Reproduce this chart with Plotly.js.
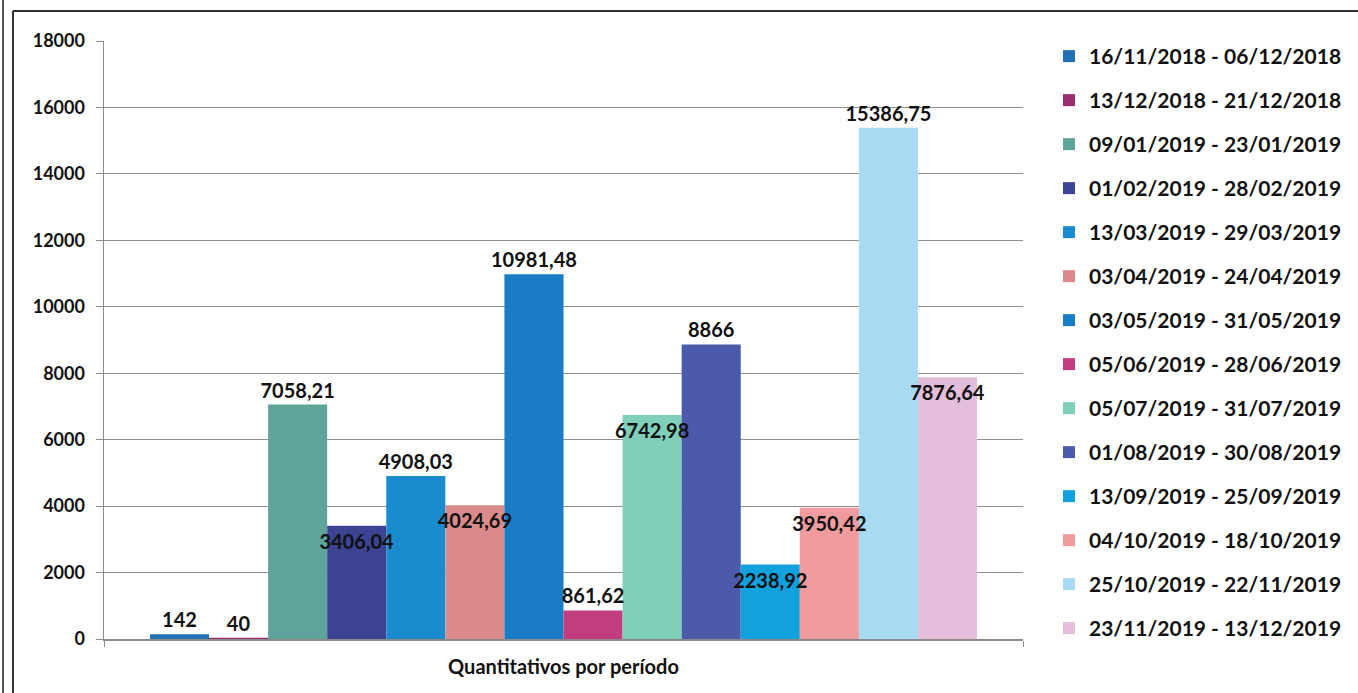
<!DOCTYPE html>
<html>
<head>
<meta charset="utf-8">
<script src="https://cdn.plot.ly/plotly-3.0.1.min.js"></script>
<style>
html,body{margin:0;padding:0;background:#fff;}
#chart{width:1358px;height:693px;}
</style>
</head>
<body>
<div id="chart"></div>
<script>
var category = ["Quantitativos por período"];
var periods = [
  "16/11/2018 - 06/12/2018",
  "13/12/2018 - 21/12/2018",
  "09/01/2019 - 23/01/2019",
  "01/02/2019 - 28/02/2019",
  "13/03/2019 - 29/03/2019",
  "03/04/2019 - 24/04/2019",
  "03/05/2019 - 31/05/2019",
  "05/06/2019 - 28/06/2019",
  "05/07/2019 - 31/07/2019",
  "01/08/2019 - 30/08/2019",
  "13/09/2019 - 25/09/2019",
  "04/10/2019 - 18/10/2019",
  "25/10/2019 - 22/11/2019",
  "23/11/2019 - 13/12/2019"
];
var values = [142, 40, 7058.21, 3406.04, 4908.03, 4024.69, 10981.48, 861.62, 6742.98, 8866, 2238.92, 3950.42, 15386.75, 7876.64];
var colors = ["#2470b5", "#9b2f6e", "#5fa49b", "#3b4392", "#1a8ccd", "#db8b8b", "#1b7cc6", "#c23d80", "#80cfba", "#4b5aa9", "#11a1dd", "#f09c9e", "#a8dbf1", "#e3bdda"];
var labelPos = ["outside", "outside", "outside", "inside", "outside", "inside", "outside", "outside", "inside", "outside", "inside", "inside", "outside", "inside"];
var yTicks = [0, 2000, 4000, 6000, 8000, 10000, 12000, 14000, 16000, 18000];

var FONT = "Lato, 'Open Sans', sans-serif";
var W = 1358, H = 693, L = 104, R = 1023, T = 41, B = 639;
function px(x){ return (x - L) / (R - L); }
function py(y){ return (B - y) / (B - T); }

var labelFont = {family: FONT, size: 20, color: "#111", weight: "bold"};

// Coloured bars (legend entries)
var bars = periods.map(function(p, i){
  return {
    type: "bar",
    name: p,
    legendgroup: "g" + i,
    x: category,
    y: [values[i]],
    marker: {color: colors[i], line: {width: 0}},
    hoverinfo: "name+y"
  };
});

// Transparent copies on an overlaid axis that carry the data labels above all bars
var labels = periods.map(function(p, i){
  return {
    type: "bar",
    name: p,
    showlegend: false,
    xaxis: "x2",
    yaxis: "y",
    x: category,
    y: [values[i]],
    text: [String(values[i]).replace(".", ",")],
    textposition: labelPos[i],
    textangle: 0,
    insidetextanchor: "end",
    constraintext: "none",
    cliponaxis: false,
    textfont: labelFont,
    insidetextfont: labelFont,
    outsidetextfont: labelFont,
    marker: {color: "rgba(0,0,0,0)", line: {width: 0}},
    hoverinfo: "skip"
  };
});

var layout = {
  width: W, height: H,
  margin: {l: L, r: W - R, t: T, b: H - B, pad: 0, autoexpand: false},
  paper_bgcolor: "#fff",
  plot_bgcolor: "#fff",
  barmode: "group",
  bargap: 0.1,
  bargroupgap: 0,
  font: {family: FONT, color: "#111"},
  xaxis: {
    type: "category",
    showline: true, linecolor: "#8a8a8a", linewidth: 1.5,
    ticks: "outside", tickson: "boundaries", ticklen: 6, tickcolor: "#8a8a8a",
    tickfont: {family: FONT, size: 20, color: "#111", weight: "bold"},
    ticklabelstandoff: 9,
    showgrid: false, zeroline: false, fixedrange: true
  },
  xaxis2: {
    type: "category",
    overlaying: "x",
    matches: "x",
    visible: false,
    fixedrange: true
  },
  yaxis: {
    range: [0, 18000],
    tickvals: yTicks,
    ticktext: yTicks.map(String),
    showline: true, linecolor: "#8a8a8a", linewidth: 1.5,
    ticks: "outside", ticklen: 7, tickcolor: "#8a8a8a",
    showgrid: true, gridcolor: "#8f8f8f", gridwidth: 1.2,
    zeroline: false,
    tickfont: {family: FONT, size: 18, color: "#111", weight: "bold"},
    ticklabelstandoff: 7,
    fixedrange: true
  },
  legend: {
    x: px(1049), xanchor: "left",
    y: py(36), yanchor: "top",
    traceorder: "grouped",
    tracegroupgap: 13.7,
    maxheight: 680,
    font: {family: FONT, size: 21, color: "#111", weight: "bold"},
    itemwidth: 30,
    bgcolor: "rgba(0,0,0,0)"
  },
  shapes: [
    {type: "line", xref: "paper", yref: "paper", x0: px(13), x1: px(1358), y0: py(11), y1: py(11), line: {color: "#333", width: 2}},
    {type: "line", xref: "paper", yref: "paper", x0: px(13), x1: px(13), y0: py(11), y1: py(693), line: {color: "#333", width: 2}},
    {type: "line", xref: "paper", yref: "paper", x0: px(3), x1: px(3), y0: py(0), y1: py(693), line: {color: "#555", width: 2}}
  ],
  showlegend: true
};

Plotly.newPlot("chart", bars.concat(labels), layout, {displayModeBar: false, staticPlot: true});
</script>
</body>
</html>
